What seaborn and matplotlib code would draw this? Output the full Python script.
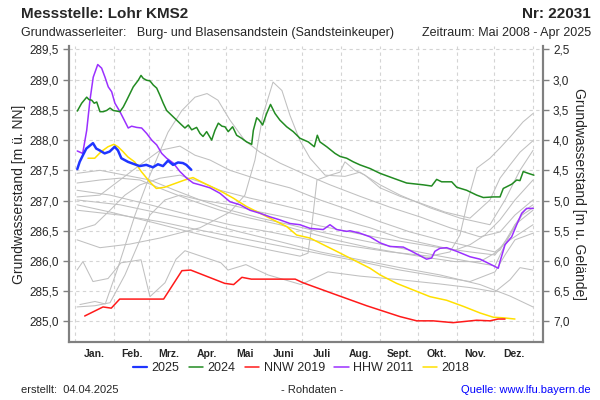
import numpy as np
import pandas as pd
import matplotlib
matplotlib.use("Agg")
import matplotlib.pyplot as plt
from matplotlib.lines import Line2D
import seaborn as sns

sns.set_style("white")
plt.rcParams['font.family'] = ['Liberation Sans', 'DejaVu Sans']

# ---------------- data (day of year, level m ü. NN) ----------------
day_2025 = [1.6, 3.5, 6.1, 8.8, 14.1, 16.7, 19.4, 23.4, 27.4, 31.4, 34.0, 36.7, 42.0, 47.3,
            51.3, 56.6, 61.9, 65.9, 69.9, 73.9, 77.9, 81.9, 85.8, 88.5, 92.4]
lvl_2025 = [287.52, 287.64, 287.75, 287.86, 287.95, 287.86, 287.83, 287.78, 287.81, 287.89,
            287.83, 287.70, 287.64, 287.60, 287.57, 287.59, 287.55, 287.60, 287.57, 287.66,
            287.59, 287.63, 287.62, 287.59, 287.51]

day_2024 = [1.6, 5.1, 9.1, 10.9, 13.1, 15.1, 17.1, 19.7, 22.3, 25.0, 27.7, 30.3, 33.0, 35.6,
            38.3, 41.0, 43.6, 46.2, 50.2, 52.4, 54.2, 56.9, 59.5, 62.2, 64.9, 67.5, 70.1, 72.8,
            76.8, 80.8, 84.8, 87.4, 90.1, 92.8, 96.7, 99.4, 101.8, 104.7, 108.7, 111.3, 114.0,
            116.9, 119.3, 121.9, 125.4, 128.6, 132.6, 136.6, 140.6, 141.9, 144.6, 146.6, 149.3,
            152.5, 155.6, 159.2, 163.1, 168.5, 173.7, 179.1, 185.7, 190.5, 192.9, 195.0, 200.4,
            207.0, 211.0, 216.3, 221.6, 226.9, 234.9, 242.9, 253.4, 264.1, 277.3, 284.0, 288.0,
            292.0, 300.0, 304.0, 311.9, 319.9, 325.2, 333.1, 338.5, 341.1, 347.8, 351.8, 354.4,
            357.0, 361.0, 365.5]
lvl_2024 = [288.48, 288.61, 288.71, 288.67, 288.66, 288.61, 288.63, 288.47, 288.47, 288.49,
            288.53, 288.49, 288.48, 288.47, 288.55, 288.66, 288.77, 288.88, 288.99, 289.07,
            289.02, 288.99, 288.98, 288.91, 288.86, 288.74, 288.61, 288.49, 288.41, 288.33,
            288.25, 288.20, 288.25, 288.17, 288.21, 288.11, 288.06, 288.14, 288.00, 288.16,
            288.28, 288.23, 288.22, 288.14, 288.22, 288.08, 288.03, 287.97, 287.93, 288.16,
            288.37, 288.33, 288.25, 288.44, 288.59, 288.44, 288.33, 288.22, 288.14, 288.03,
            287.97, 287.89, 288.08, 287.97, 287.89, 287.78, 287.73, 287.70, 287.64, 287.59,
            287.53, 287.45, 287.37, 287.29, 287.26, 287.24, 287.35, 287.31, 287.31, 287.22,
            287.17, 287.09, 287.05, 287.06, 287.06, 287.20, 287.27, 287.34, 287.33, 287.48,
            287.45, 287.42]

day_nnw2019 = [7.5, 22.1, 28.7, 35.4, 70.4, 85.0, 92.0, 119.1, 126.2, 132.8, 140.3, 175.3,
               181.5, 205.4, 232.2, 258.8, 272.1, 285.1, 301.1, 319.9, 330.5, 336.9, 342.5]
lvl_nnw2019 = [285.09, 285.24, 285.22, 285.37, 285.37, 285.84, 285.85, 285.63, 285.61, 285.73,
               285.70, 285.70, 285.64, 285.46, 285.26, 285.08, 285.01, 285.01, 284.98, 285.02,
               285.01, 285.04, 285.04]

day_hhw2011 = [1.6, 5.9, 9.1, 11.7, 14.3, 17.9, 21.0, 23.7, 26.3, 29.0, 31.6, 35.6, 38.3, 42.2,
               44.9, 48.9, 52.9, 56.9, 60.9, 64.9, 68.9, 72.8, 78.1, 83.4, 88.8, 94.0, 99.4,
               107.4, 115.3, 123.3, 131.3, 139.2, 147.2, 155.2, 163.1, 171.1, 179.1, 187.1,
               197.6, 203.0, 208.3, 216.3, 218.9, 226.9, 234.9, 242.9, 250.8, 261.4, 268.1,
               280.0, 284.0, 286.6, 290.6, 296.0, 304.0, 314.6, 322.6, 330.5, 337.1, 338.5,
               342.5, 347.8, 351.8, 355.8, 359.7, 365.0]
lvl_hhw2011 = [287.82, 287.78, 288.16, 288.66, 289.04, 289.25, 289.19, 289.04, 288.88, 288.80,
               288.61, 288.47, 288.36, 288.20, 288.23, 288.21, 288.20, 288.11, 288.00, 287.92,
               287.78, 287.70, 287.62, 287.48, 287.37, 287.29, 287.26, 287.21, 287.12, 286.98,
               286.93, 286.84, 286.79, 286.73, 286.68, 286.62, 286.60, 286.54, 286.52, 286.60,
               286.52, 286.49, 286.50, 286.46, 286.40, 286.30, 286.24, 286.23, 286.16, 286.03,
               286.05, 286.16, 286.21, 286.22, 286.16, 286.07, 286.03, 285.95, 285.88, 285.99,
               286.27, 286.40, 286.60, 286.79, 286.87, 286.87]

day_2018 = [10.1, 15.5, 20.7, 26.1, 30.8, 34.0, 38.0, 42.0, 47.3, 52.6, 59.3, 64.6, 71.2, 79.2,
            87.2, 93.8, 100.4, 108.4, 116.4, 125.9, 136.6, 147.2, 157.8, 168.5, 176.4, 187.0,
            197.6, 208.3, 221.6, 234.9, 242.9, 256.1, 269.4, 282.7, 296.0, 309.2, 322.6, 333.1,
            341.1, 350.4]
lvl_2018 = [287.70, 287.70, 287.81, 287.89, 287.93, 287.89, 287.81, 287.72, 287.64, 287.48,
            287.31, 287.20, 287.22, 287.28, 287.34, 287.38, 287.31, 287.23, 287.15, 287.04,
            286.90, 286.79, 286.68, 286.57, 286.43, 286.38, 286.27, 286.16, 286.02, 285.88,
            285.77, 285.63, 285.52, 285.41, 285.35, 285.25, 285.14, 285.07, 285.06, 285.04]

# other years of the record (grey)
grey_days = {
    "g01": [3.7, 15.7, 23.9, 34.0, 47.6, 59.5, 73.9, 85.0, 95.4, 105.0, 113.7, 123.3, 135.2,
            147.2, 163.1, 179.1, 203.0, 226.9, 250.8, 274.7, 298.6, 322.6, 338.5, 350.4, 364.8],
    "g02": [1.4, 19.7, 43.6, 67.5, 99.4, 123.3, 135.2, 143.2, 149.5, 157.6, 164.7, 171.1, 179.1,
            187.1, 199.1, 214.9, 226.9, 242.9, 258.8, 282.7, 306.6, 330.5, 342.5, 354.4, 364.8],
    "g03": [1.4, 27.7, 59.5, 91.4, 123.3, 155.2, 179.1, 185.5, 188.6, 192.6, 203.0, 211.0,
            214.9, 222.9, 230.9, 242.9, 258.8, 274.7, 294.6, 314.6, 330.5, 338.5, 346.5, 354.4,
            364.8],
    "g04": [1.4, 27.7, 59.5, 91.4, 123.3, 155.2, 187.1, 218.9, 250.8, 282.7, 298.6, 306.6,
            313.0, 320.2, 330.5, 338.5, 346.5, 356.8, 364.8],
    "g05": [1.4, 6.1, 14.1, 26.1, 36.4, 52.4, 59.5, 71.5, 80.3, 87.4, 100.2, 116.1, 121.7,
            136.0, 153.6, 179.9, 201.4, 226.9, 258.8, 290.6, 314.6, 334.5, 346.5, 354.4, 364.8],
    "g06": [1.4, 35.6, 67.5, 99.4, 131.3, 163.1, 195.1, 226.9, 258.8, 290.6, 322.6, 346.5, 364.8],
    "g07": [1.4, 35.6, 67.5, 99.4, 131.3, 163.1, 195.1, 226.9, 258.8, 290.6, 314.6, 334.5,
            342.5, 350.4, 364.8],
    "g08": [1.4, 19.7, 39.6, 59.5, 79.5, 99.4, 123.3, 147.2, 171.1, 195.1, 218.9, 242.9, 266.8,
            290.6, 314.6, 334.5, 342.5, 350.4, 358.4, 364.8],
    "g09": [1.4, 19.7, 35.6, 51.6, 71.5, 91.4, 115.3, 139.2, 163.1, 187.1, 211.0, 234.9, 258.8,
            282.7, 302.6, 322.6, 338.5, 350.4, 364.8],
    "g10": [1.4, 15.7, 27.7, 39.6, 51.6, 59.5, 71.5, 83.4, 99.4, 123.3, 147.2, 171.1, 195.1,
            218.9, 242.9, 266.8, 290.6, 314.6, 334.5, 346.5, 356.0, 364.8],
    "g11": [1.4, 15.7, 27.7, 39.6, 51.6, 67.5, 83.4, 99.4, 115.3, 139.2, 163.1, 187.1, 211.0,
            234.9, 258.8, 282.7, 302.6, 314.6, 326.5, 338.5, 350.4, 364.8],
    "g12": [1.4, 19.7, 35.6, 51.6, 67.5, 83.4, 95.4, 107.4, 123.3, 147.2, 171.1, 195.1, 218.9,
            242.9, 266.8, 290.6, 314.6, 334.5, 346.5, 364.8],
}
grey_levels = {
    "g01": [285.28, 285.33, 285.29, 285.89, 286.76, 287.42, 288.13, 288.49, 288.71, 288.77,
            288.66, 288.33, 287.99, 287.80, 287.62, 287.47, 287.26, 287.07, 286.89, 286.73,
            286.55, 286.40, 286.48, 286.76, 287.01],
    "g02": [286.35, 286.22, 286.28, 286.38, 286.55, 286.81, 287.09, 287.67, 288.41, 288.96,
            288.82, 288.41, 287.99, 287.70, 287.42, 287.40, 287.47, 287.26, 287.09, 286.88,
            286.71, 286.60, 287.01, 287.50, 287.83],
    "g03": [286.93, 286.81, 286.65, 286.48, 286.32, 286.18, 286.08, 286.13, 286.60, 287.34,
            287.42, 287.47, 287.64, 287.50, 287.42, 287.21, 287.07, 286.96, 286.81, 286.71,
            287.01, 287.37, 287.59, 287.80, 287.99],
    "g04": [287.17, 287.09, 286.93, 286.76, 286.60, 286.48, 286.35, 286.25, 286.15, 286.08,
            286.15, 286.43, 287.01, 287.54, 287.70, 287.87, 288.05, 288.30, 288.44],
    "g05": [285.85, 285.99, 285.66, 285.71, 285.97, 286.02, 285.41, 285.64, 286.03, 286.17,
            286.08, 285.97, 285.85, 285.94, 285.77, 285.61, 285.82, 285.75, 285.69, 285.62,
            285.56, 285.49, 285.69, 285.89, 285.85],
    "g06": [287.01, 286.93, 286.79, 286.65, 286.48, 286.32, 286.15, 286.02, 285.89, 285.77,
            285.61, 285.42, 285.24],
    "g07": [286.84, 286.76, 286.65, 286.51, 286.38, 286.25, 286.12, 285.99, 285.85, 285.74,
            285.66, 285.82, 286.10, 286.35, 286.46],
    "g08": [287.45, 287.50, 287.42, 287.34, 287.17, 287.01, 286.84, 286.71, 286.60, 286.48,
            286.38, 286.28, 286.18, 286.08, 285.99, 285.92, 286.27, 286.60, 286.84, 286.93],
    "g09": [287.29, 287.34, 287.37, 287.34, 287.17, 287.01, 286.84, 286.71, 286.60, 286.46,
            286.33, 286.22, 286.13, 286.05, 285.99, 285.99, 286.18, 286.60, 286.84],
    "g10": [285.24, 285.26, 285.31, 285.77, 286.35, 286.76, 287.01, 287.09, 287.01, 286.93,
            286.81, 286.71, 286.58, 286.48, 286.38, 286.30, 286.22, 286.15, 286.10, 286.43,
            286.76, 286.88],
    "g11": [286.51, 286.60, 286.84, 287.09, 287.26, 287.37, 287.42, 287.31, 287.17, 287.04,
            286.93, 286.81, 286.68, 286.55, 286.38, 286.27, 286.18, 286.27, 286.43, 286.68,
            287.01, 287.34],
    "g12": [287.06, 287.09, 287.34, 287.59, 287.83, 287.90, 287.75, 287.67, 287.50, 287.34,
            287.21, 287.01, 286.84, 286.65, 286.48, 286.35, 286.24, 286.15, 286.35, 286.60],
}

month_labels = ["Jan.", "Feb.", "Mrz.", "Apr.", "Mai", "Juni", "Juli", "Aug.", "Sept.",
                "Okt.", "Nov.", "Dez."]
month_starts = [0, 31, 59, 90, 120, 151, 181, 212, 243, 273, 304, 334, 365]
ground_level = 292.0
left_ticks = [285.0, 285.5, 286.0, 286.5, 287.0, 287.5, 288.0, 288.5, 289.0, 289.5]
right_ticks = [2.5, 3.0, 3.5, 4.0, 4.5, 5.0, 5.5, 6.0, 6.5, 7.0]

series = [
    ("2018", day_2018, lvl_2018, "#ffe000", 1.1),
    ("HHW 2011", day_hhw2011, lvl_hhw2011, "#9b30ff", 1.1),
    ("NNW 2019", day_nnw2019, lvl_nnw2019, "#ff1a1a", 1.1),
    ("2024", day_2024, lvl_2024, "#228b22", 1.1),
    ("2025", day_2025, lvl_2025, "#1f35ff", 1.8),
]
legend_order = ["2025", "2024", "NNW 2019", "HHW 2011", "2018"]

# ---------------- figure ----------------
fig = plt.figure(figsize=(6, 4), dpi=100)
ax = fig.add_axes([0.115, 0.145, 0.7905, 0.739])

grey_df = pd.concat([pd.DataFrame({"day": grey_days[k], "level": grey_levels[k], "line": k})
                     for k in grey_days], ignore_index=True)
sns.lineplot(data=grey_df, x="day", y="level", units="line", estimator=None, sort=False,
             color="#c0c0c0", lw=0.75, legend=False, ax=ax)

handles = {}
for name, d, v, col, lw in series:
    sns.lineplot(x=d, y=v, color=col, lw=lw, sort=False, estimator=None, ax=ax)
    handles[name] = Line2D([], [], color=col, lw=1.6 if name == "2025" else 1.1)

ax.set_xlim(-5, 373)
ax.set_ylim(284.66, 289.55)
ax.set_xlabel("")
ax.set_ylabel("Grundwasserstand [m ü. NN]", fontsize=10, labelpad=3)

ax.set_xticks(month_starts)
ax.set_xticklabels([])
mids = [(month_starts[i] + month_starts[i + 1]) / 2 for i in range(12)]
ax.set_xticks(mids, minor=True)
ax.set_xticklabels(month_labels, minor=True, fontsize=7.5, fontweight="bold")
ax.tick_params(axis="x", which="major", direction="out", length=4, color="#808080", width=1)
ax.tick_params(axis="x", which="minor", length=0, pad=5)

ax.set_yticks(left_ticks)
ax.set_yticklabels([f"{t:.1f}".replace(".", ",") for t in left_ticks], fontsize=8.5)
ax.tick_params(axis="y", direction="out", length=4, color="#808080", width=1, pad=3)

ax.grid(True, which="major", color="#d4d4d4", ls=(0, (3, 3)), lw=0.8)
for s in ["left", "right", "bottom"]:
    ax.spines[s].set_color("#808080")
    ax.spines[s].set_linewidth(1.5)
ax.spines["top"].set_visible(False)

ax2 = ax.twinx()
ax2.set_ylim(ground_level - 284.66, ground_level - 289.55)
ax2.set_yticks(right_ticks)
ax2.set_yticklabels([f"{t:.1f}".replace(".", ",") for t in right_ticks], fontsize=8.5)
ax2.tick_params(axis="y", direction="out", length=4, color="#808080", width=1, pad=3)
ax2.set_ylabel("Grundwasserstand [m u. Gelände]", fontsize=10, rotation=270, labelpad=12)
for s in ["left", "right", "bottom"]:
    ax2.spines[s].set_color("#808080")
    ax2.spines[s].set_linewidth(1.5)
ax2.spines["top"].set_visible(False)
ax2.grid(False)

fig.legend([handles[n] for n in legend_order], legend_order, loc="center",
           bbox_to_anchor=(0.502, 0.08), ncol=5, frameon=False, fontsize=9,
           handlelength=1.15, handletextpad=0.35, columnspacing=0.75)

fig.text(0.035, 0.965, "Messstelle: Lohr KMS2", fontsize=11, fontweight="bold",
         ha="left", va="center")
fig.text(0.985, 0.965, "Nr: 22031", fontsize=11, fontweight="bold", ha="right", va="center")
fig.text(0.035, 0.917, "Grundwasserleiter:   Burg- und Blasensandstein (Sandsteinkeuper)",
         fontsize=9, ha="left", va="center")
fig.text(0.985, 0.917, "Zeitraum: Mai 2008 - Apr 2025", fontsize=9, ha="right", va="center")
fig.text(0.035, 0.025, "erstellt:  04.04.2025", fontsize=8, ha="left", va="center")
fig.text(0.52, 0.025, "- Rohdaten -", fontsize=8, ha="center", va="center")
fig.text(0.985, 0.025, "Quelle: www.lfu.bayern.de", fontsize=8, ha="right", va="center",
         color="#0000ff")

fig.savefig("out.png", dpi=100)
